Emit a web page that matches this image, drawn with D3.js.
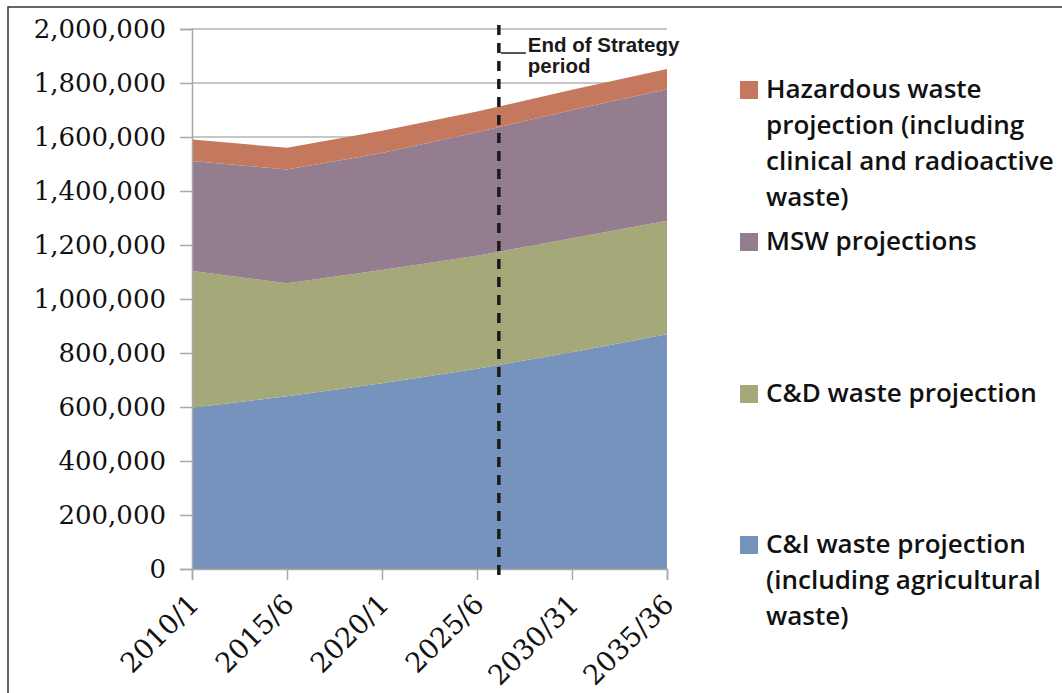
<!DOCTYPE html>
<html>
<head>
<meta charset="utf-8">
<script src="https://cdn.jsdelivr.net/npm/d3@7"></script>
<style>
  html, body { margin: 0; padding: 0; background: #fff; overflow: hidden; }
  svg { display: block; }
</style>
</head>
<body>
<svg id="chart" width="1062" height="693"></svg>
<script>
// ---------- data ----------
const categories = ["2010/1", "2015/6", "2020/1", "2025/6", "2030/31", "2035/36"];
const ciWaste  = [597000, 640000, 688000, 742000, 803000, 869000];
const cdWaste  = [507000, 418000, 419000, 418000, 422000, 421000];
const mswWaste = [407000, 422000, 434000, 458000, 475000, 487000];
const hazWaste = [80000, 80000, 82000, 76000, 75000, 75000];
const yTickValues = [0, 200000, 400000, 600000, 800000, 1000000, 1200000, 1400000, 1600000, 1800000, 2000000];
const seriesKeys = ["ci", "cd", "msw", "haz"];
const seriesColors = { ci: "#7593bc", cd: "#a5a878", msw: "#947d8f", haz: "#c4795f" };
const legendEntries = [
  { key: "haz", lines: ["Hazardous waste", "projection (including", "clinical and radioactive", "waste)"] },
  { key: "msw", lines: ["MSW projections"] },
  { key: "cd",  lines: ["C&D waste projection"] },
  { key: "ci",  lines: ["C&I waste projection", "(including agricultural", "waste)"] }
];
const strategyEndIndex = 3.23;   // position of the "End of Strategy period" marker between 2025/6 and 2030/31
const annotationLines = ["End of Strategy", "period"];

// ---------- table for the stack ----------
const table = categories.map((c, i) => ({
  cat: c, idx: i, ci: ciWaste[i], cd: cdWaste[i], msw: mswWaste[i], haz: hazWaste[i]
}));

const svg = d3.select("#chart");

// outer frame
svg.append("rect")
  .attr("x", 8).attr("y", 7).attr("width", 1100).attr("height", 720)
  .attr("fill", "#fff").attr("stroke", "#333").attr("stroke-width", 1.5);

// ---------- scales ----------
const plot = { left: 192, right: 667, top: 29, bottom: 569 };
const x = d3.scaleLinear().domain([0, categories.length - 1]).range([plot.left, plot.right]);
const y = d3.scaleLinear().domain([0, 2000000]).range([plot.bottom, plot.top]);

// gridlines
svg.append("g")
  .selectAll("line")
  .data(yTickValues.filter(v => v > 0))
  .join("line")
  .attr("x1", plot.left).attr("x2", plot.right)
  .attr("y1", d => y(d)).attr("y2", d => y(d))
  .attr("stroke", "#b4b4b4").attr("stroke-width", 1.3);

// stacked areas
const stack = d3.stack().keys(seriesKeys);
const layers = stack(table);
const area = d3.area()
  .x(d => x(d.data.idx))
  .y0(d => y(d[0]))
  .y1(d => y(d[1]));
svg.append("g")
  .selectAll("path")
  .data(layers)
  .join("path")
  .attr("d", area)
  .attr("fill", d => seriesColors[d.key]);

// y axis
const yAxis = d3.axisLeft(y)
  .tickValues(yTickValues)
  .tickSize(12)
  .tickPadding(14)
  .tickFormat(d3.format(","));
const gy = svg.append("g").attr("transform", `translate(${plot.left},0)`).call(yAxis);
gy.select(".domain").attr("stroke", "#a8a8a8").attr("stroke-width", 1.5);
gy.selectAll(".tick line").attr("stroke", "#a8a8a8").attr("stroke-width", 1.5);
gy.selectAll(".tick text")
  .attr("font-family", "DejaVu Serif, serif")
  .attr("font-size", 26)
  .attr("fill", "#111");

// x axis
const xAxis = d3.axisBottom(x)
  .tickValues(d3.range(categories.length))
  .tickSize(11)
  .tickFormat(i => categories[i]);
const gx = svg.append("g").attr("transform", `translate(0,${plot.bottom})`).call(xAxis);
gx.select(".domain").attr("stroke", "#a8a8a8").attr("stroke-width", 1.5);
gx.selectAll(".tick line").attr("stroke", "#a8a8a8").attr("stroke-width", 1.5);
gx.selectAll(".tick text")
  .attr("font-family", "DejaVu Serif, serif")
  .attr("font-size", 27.5)
  .attr("fill", "#111")
  .attr("text-anchor", "end")
  .attr("dy", 0)
  .attr("transform", "translate(8,37) rotate(-45)")
  .attr("y", 0).attr("x", 0);

// dashed "End of Strategy" marker
const xs = x(strategyEndIndex);
svg.append("line")
  .attr("x1", xs).attr("x2", xs)
  .attr("y1", plot.top - 4).attr("y2", plot.bottom + 8)
  .attr("stroke", "#1a1a1a").attr("stroke-width", 3.5)
  .attr("stroke-dasharray", "10,8");
svg.append("line")
  .attr("x1", xs + 2).attr("x2", xs + 27)
  .attr("y1", 53).attr("y2", 53)
  .attr("stroke", "#1a1a1a").attr("stroke-width", 1.5);
svg.append("text")
  .attr("x", xs + 29).attr("y", 52)
  .attr("font-family", "Liberation Sans, Arial, sans-serif")
  .attr("font-weight", "bold").attr("font-size", 20.5)
  .attr("fill", "#1a1a1a")
  .selectAll("tspan")
  .data(annotationLines)
  .join("tspan")
  .attr("x", xs + 29)
  .attr("dy", (d, i) => i === 0 ? 0 : 21)
  .text(d => d);

// legend
const legendY = { haz: 98, msw: 250, cd: 402, ci: 553 };
const lg = svg.append("g");
legendEntries.forEach(e => {
  lg.append("rect")
    .attr("x", 740).attr("y", legendY[e.key] - 17)
    .attr("width", 18).attr("height", 18)
    .attr("fill", seriesColors[e.key]);
  lg.append("text")
    .attr("x", 766).attr("y", legendY[e.key])
    .attr("font-family", "Open Sans, Lato, sans-serif")
    .attr("font-weight", 600).attr("font-size", 26)
    .attr("fill", "#111")
    .selectAll("tspan")
    .data(e.lines)
    .join("tspan")
    .attr("x", 766)
    .attr("dy", (d, i) => i === 0 ? 0 : 36)
    .text(d => d);
});
</script>
</body>
</html>
